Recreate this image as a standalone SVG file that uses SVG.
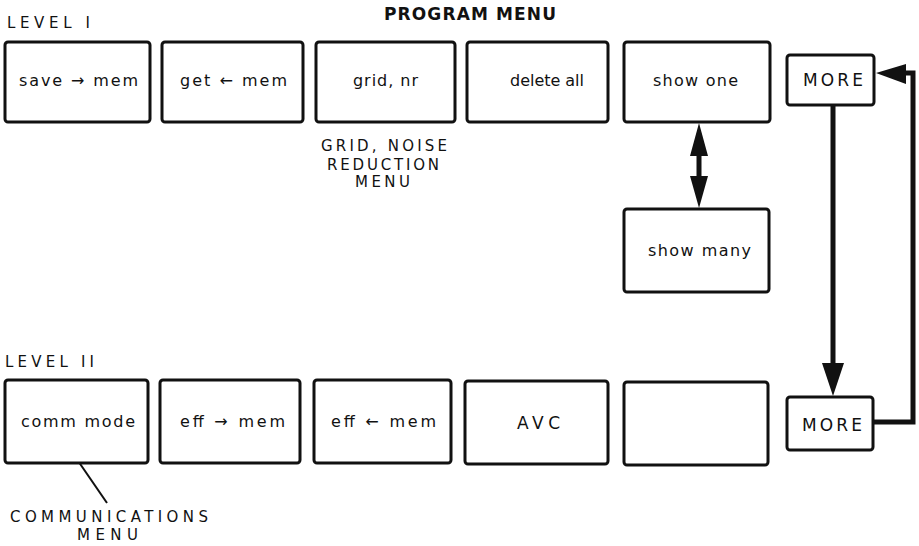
<svg xmlns="http://www.w3.org/2000/svg" width="919" height="546" viewBox="0 0 919 546">
<style>
.box{fill:#fff;stroke:#111;stroke-width:3;}
.t{font-family:"DejaVu Sans",sans-serif;font-size:16px;fill:#111;}
.m{font-family:"DejaVu Sans",sans-serif;font-size:17px;fill:#111;}
.c{font-family:"DejaVu Sans",sans-serif;font-size:15px;fill:#111;}
.h{font-family:"DejaVu Sans",sans-serif;font-size:17px;font-weight:bold;fill:#111;}
.ln{fill:none;stroke:#111;stroke-width:5;}
.hd{fill:#111;stroke:none;}
</style>
<rect width="919" height="546" fill="#fff"/>
<g id="labels">
<text class="c" x="7" y="28" textLength="83" lengthAdjust="spacing">LEVEL I</text>
<text class="h" x="384" y="20" textLength="172" lengthAdjust="spacing">PROGRAM MENU</text>
<text class="c" x="321" y="151" textLength="126" lengthAdjust="spacing">GRID, NOISE</text>
<text class="c" x="327" y="170" textLength="112" lengthAdjust="spacing">REDUCTION</text>
<text class="c" x="355" y="187" textLength="55" lengthAdjust="spacing">MENU</text>
<text class="c" x="5" y="367" textLength="89" lengthAdjust="spacing">LEVEL II</text>
<text class="c" x="10" y="522" textLength="198" lengthAdjust="spacing">COMMUNICATIONS</text>
<text class="c" x="77" y="540" textLength="61" lengthAdjust="spacing">MENU</text>
<line x1="74" y1="455" x2="107" y2="503" stroke="#111" stroke-width="2"/>
</g>
<g id="save-mem"><rect class="box" x="5" y="42" width="145" height="80" rx="3"/><text class="t" x="19" y="86" textLength="119" lengthAdjust="spacing">save → mem</text></g>
<g id="get-mem"><rect class="box" x="162" y="42" width="141" height="80" rx="3"/><text class="t" x="180" y="86" textLength="107" lengthAdjust="spacing">get ← mem</text></g>
<g id="grid-nr"><rect class="box" x="316" y="42" width="139" height="80" rx="3"/><text class="t" x="353" y="86" textLength="65" lengthAdjust="spacing">grid, nr</text></g>
<g id="delete-all"><rect class="box" x="467" y="42" width="141" height="80" rx="3"/><text class="t" x="510" y="86" textLength="74" lengthAdjust="spacing">delete all</text></g>
<g id="show-one"><rect class="box" x="624" y="42" width="146" height="80" rx="3"/><text class="t" x="653" y="86" textLength="85" lengthAdjust="spacing">show one</text></g>
<g id="more-1"><rect class="box" x="787" y="55" width="87" height="50" rx="3"/><text class="m" x="803" y="86" textLength="60" lengthAdjust="spacing">MORE</text></g>
<g id="show-many"><rect class="box" x="624" y="209" width="145" height="83" rx="3"/><text class="t" x="648" y="256" textLength="103" lengthAdjust="spacing">show many</text></g>
<g id="comm-mode"><rect class="box" x="5" y="380" width="143" height="83" rx="3"/><text class="t" x="21" y="427" textLength="114" lengthAdjust="spacing">comm mode</text></g>
<g id="eff-to-mem"><rect class="box" x="160" y="380" width="140" height="83" rx="3"/><text class="t" x="180" y="427" textLength="105" lengthAdjust="spacing">eff → mem</text></g>
<g id="eff-from-mem"><rect class="box" x="314" y="380" width="137" height="83" rx="3"/><text class="t" x="331" y="427" textLength="105" lengthAdjust="spacing">eff ← mem</text></g>
<g id="avc"><rect class="box" x="465" y="381" width="143" height="83" rx="3"/><text class="m" x="517" y="429" textLength="43" lengthAdjust="spacing">AVC</text></g>
<g id="empty"><rect class="box" x="624" y="382" width="144" height="83" rx="3"/></g>
<g id="more-2"><rect class="box" x="787" y="397" width="86" height="53" rx="3"/><text class="m" x="802" y="431" textLength="60" lengthAdjust="spacing">MORE</text></g>
<g id="connectors">
<line class="ln" x1="699" y1="150" x2="699" y2="182" stroke-width="4"/>
<polygon class="hd" points="699,123 690,156 708,156"/>
<polygon class="hd" points="699,208 690,176 708,176"/>
<line class="ln" x1="833" y1="105" x2="833" y2="366"/>
<polygon class="hd" points="822,363 844,363 833,396"/>
<polyline class="ln" points="873,422 913,422 913,73 900,73"/>
<polygon class="hd" points="906,64 906,84 876,73"/>
</g>
</svg>
